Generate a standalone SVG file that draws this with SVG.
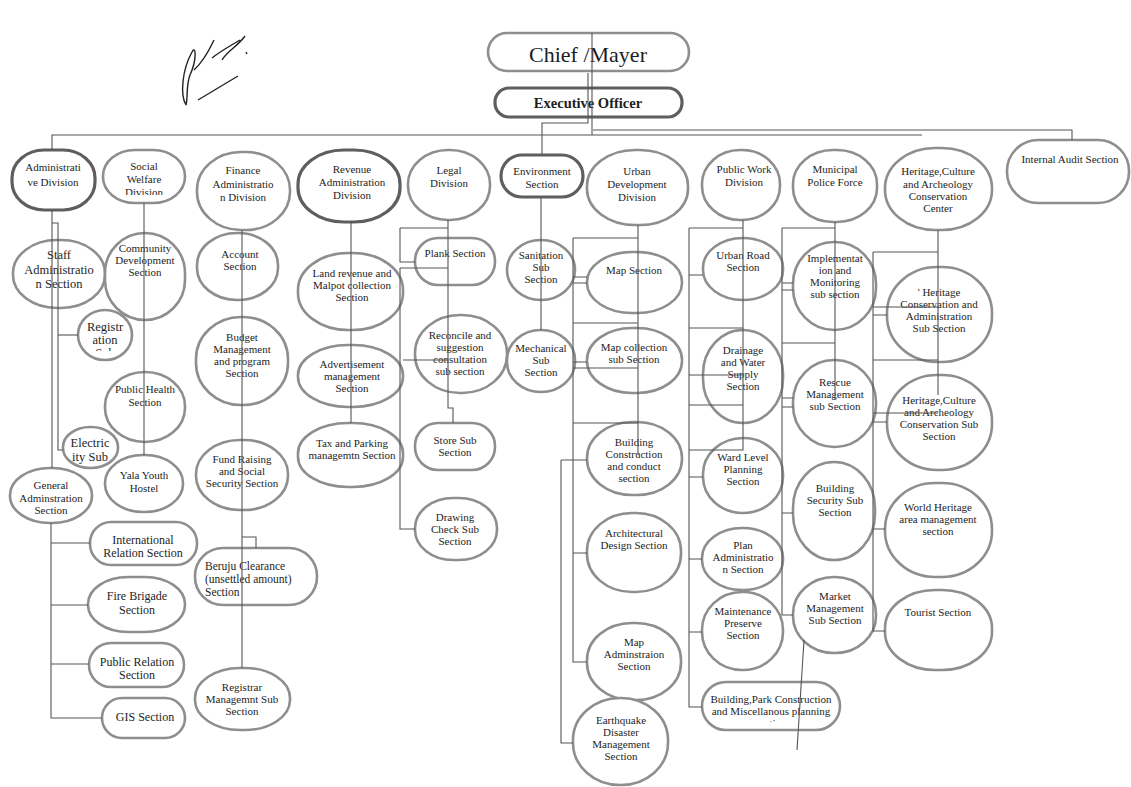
<svg xmlns="http://www.w3.org/2000/svg" width="1131" height="787" viewBox="0 0 1131 787">
<style>
.n{fill:#fff;stroke:#8e8e8e;stroke-width:2.6}
.nb{fill:#fff;stroke:#5e5e5e;stroke-width:3.2}
text{font-family:"Liberation Serif","Times New Roman",serif;font-size:11px;fill:#1e1e1e;text-anchor:middle}
.l{font-size:12px}
.xl{font-size:12.5px}
.c{fill:none;stroke:#555;stroke-width:1.1}
</style>
<defs>
<clipPath id="cpSoc"><rect x="103" y="150" width="82" height="45"/></clipPath>
<clipPath id="cpReg"><rect x="78" y="310" width="54" height="41"/></clipPath>
<clipPath id="cpBP"><rect x="702" y="682" width="138" height="40"/></clipPath>
</defs>
<rect width="1131" height="787" fill="#fff"/>

<g id="signature" fill="none" stroke="#222" stroke-width="1.4">
<path d="M186,105 C180,95 182,70 192,52 M192,52 C196,44 197,60 190,75 C186,85 188,98 186,105"/>
<path d="M198,100 L238,76"/>
<path d="M194,70 C205,60 210,48 214,40 M212,58 C222,50 232,45 240,40 M222,60 C228,50 236,48 245,36 M246,52 L247,54"/>
</g>

<g id="chief"><rect class="n" x="488" y="33" width="201" height="38" rx="19"/><text x="588" y="62" style="font-size:22px">Chief /Mayer</text></g>
<g id="exec"><rect class="nb" x="495" y="88" width="187" height="29" rx="14"/><text x="588" y="108" style="font-size:14.5px;font-weight:bold">Executive Officer</text></g>

<g id="admin-div"><rect class="nb" x="12" y="150" width="83" height="60" rx="32" ry="28"/><text x="53" y="171">Administrati</text><text x="53" y="186">ve Division</text></g>
<g id="social-div"><rect class="n" x="103" y="150" width="82" height="53" rx="32" ry="26"/><g clip-path="url(#cpSoc)"><text x="144" y="170">Social</text><text x="144" y="183">Welfare</text><text x="144" y="196">Division</text></g></g>
<g id="finance-div"><rect class="n" x="197" y="152" width="93" height="78" rx="44" ry="38"/><text x="243" y="174">Finance</text><text x="243" y="188">Administratio</text><text x="243" y="201">n  Division</text></g>
<g id="revenue-div"><rect class="nb" x="298" y="150" width="102" height="72" rx="46" ry="34"/><text x="352" y="173">Revenue</text><text x="352" y="186">Administration</text><text x="352" y="199">Division</text></g>
<g id="legal-div"><rect class="n" x="408" y="150" width="82" height="70" rx="40" ry="34"/><text x="449" y="174">Legal</text><text x="449" y="187">Division</text></g>
<g id="env-sec"><rect class="nb" x="501" y="155" width="82" height="42" rx="21"/><text x="542" y="175">Environment</text><text x="542" y="188">Section</text></g>
<g id="urban-div"><rect class="n" x="587" y="150" width="101" height="75" rx="48" ry="36"/><text x="637" y="175">Urban</text><text x="637" y="188">Development</text><text x="637" y="201">Division</text></g>
<g id="publicwork-div"><rect class="n" x="702" y="150" width="78" height="70" rx="38" ry="34"/><text x="744" y="173">Public Work</text><text x="744" y="186">Division</text></g>
<g id="police"><rect class="n" x="793" y="150" width="84" height="72" rx="40" ry="34"/><text x="835" y="173">Municipal</text><text x="835" y="186">Police Force</text></g>
<g id="heritage-center"><rect class="n" x="885" y="148" width="107" height="82" rx="50" ry="40"/><text x="938" y="175">Heritage,Culture</text><text x="938" y="188">and Archeology</text><text x="938" y="200">Conservation</text><text x="938" y="212">Center</text></g>
<g id="audit"><rect class="n" x="1007" y="140" width="122" height="63" rx="31"/><text x="1070" y="163">Internal Audit Section</text></g>

<g id="staff"><rect class="n" x="13" y="240" width="92" height="68" rx="44" ry="33"/><text class="xl" x="59" y="259">Staff</text><text class="xl" x="59" y="274">Administratio</text><text class="xl" x="59" y="288">n Section</text></g>
<g id="registration"><rect class="n" x="78" y="310" width="54" height="50" rx="27" ry="25"/><g clip-path="url(#cpReg)"><text class="xl" x="105" y="331">Registr</text><text class="xl" x="105" y="344">ation</text><text class="xl" x="105" y="357">Sub</text></g></g>
<g id="electricity"><rect class="n" x="63" y="427" width="55" height="41" rx="27" ry="20"/><text class="xl" x="90" y="447">Electric</text><text class="xl" x="90" y="461">ity Sub</text></g>
<g id="gen-admin"><rect class="n" x="10" y="468" width="82" height="55" rx="40" ry="27"/><text x="51" y="489">General</text><text x="51" y="502">Adminstration</text><text x="51" y="514">Section</text></g>
<g id="intl"><rect class="n" x="90" y="522" width="107" height="43" rx="21"/><text class="l" x="143" y="544">International</text><text class="l" x="143" y="557">Relation Section</text></g>
<g id="fire"><rect class="n" x="88" y="577" width="97" height="55" rx="40" ry="27"/><text class="l" x="137" y="600">Fire Brigade</text><text class="l" x="137" y="614">Section</text></g>
<g id="pubrel"><rect class="n" x="89" y="643" width="95" height="44" rx="22"/><text class="l" x="137" y="666">Public Relation</text><text class="l" x="137" y="679">Section</text></g>
<g id="gis"><rect class="n" x="102" y="698" width="83" height="40" rx="20"/><text class="l" x="145" y="721">GIS Section</text></g>

<g id="community"><rect class="n" x="105" y="233" width="80" height="87" rx="40" ry="40"/><text x="145" y="252">Community</text><text x="145" y="264">Development</text><text x="145" y="276">Section</text></g>
<g id="public-health"><rect class="n" x="105" y="372" width="80" height="70" rx="40" ry="34"/><text x="145" y="393">Public Health</text><text x="145" y="406">Section</text></g>
<g id="yala"><rect class="n" x="105" y="455" width="78" height="57" rx="38" ry="28"/><text x="144" y="479">Yala Youth</text><text x="144" y="492">Hostel</text></g>

<g id="account"><rect class="n" x="197" y="233" width="81" height="67" rx="40" ry="32"/><text x="240" y="258">Account</text><text x="240" y="270">Section</text></g>
<g id="budget"><rect class="n" x="196" y="317" width="92" height="88" rx="45" ry="42"/><text x="242" y="341">Budget</text><text x="242" y="353">Management</text><text x="242" y="365">and program</text><text x="242" y="377">Section</text></g>
<g id="fund"><rect class="n" x="196" y="440" width="92" height="70" rx="44" ry="34"/><text x="242" y="463">Fund Raising</text><text x="242" y="475">and Social</text><text x="242" y="487">Security Section</text></g>
<g id="beruju"><rect class="n" x="195" y="548" width="122" height="57" rx="28"/><text x="205" y="570" style="text-anchor:start;font-size:11.5px">Beruju Clearance</text><text x="205" y="583" style="text-anchor:start;font-size:11.5px">(unsettled amount)</text><text x="205" y="596" style="text-anchor:start;font-size:11.5px">Section</text></g>
<g id="registrar"><rect class="n" x="195" y="668" width="95" height="62" rx="45" ry="30"/><text x="242" y="691">Registrar</text><text x="242" y="703">Managemnt Sub</text><text x="242" y="715">Section</text></g>

<g id="land"><rect class="n" x="298" y="253" width="105" height="77" rx="50" ry="37"/><text x="352" y="277">Land revenue and</text><text x="352" y="289">Malpot collection</text><text x="352" y="301">Section</text></g>
<g id="advert"><rect class="n" x="298" y="345" width="105" height="62" rx="50" ry="30"/><text x="352" y="368">Advertisement</text><text x="352" y="380">management</text><text x="352" y="392">Section</text></g>
<g id="tax"><rect class="n" x="298" y="423" width="105" height="64" rx="50" ry="30"/><text x="352" y="447">Tax and Parking</text><text x="352" y="459">managemtn Section</text></g>

<g id="plank"><rect class="n" x="415" y="238" width="80" height="47" rx="23"/><text x="455" y="257">Plank Section</text></g>
<g id="reconcile"><rect class="n" x="415" y="315" width="92" height="78" rx="45" ry="38"/><text x="460" y="339">Reconcile and</text><text x="460" y="351">suggestion</text><text x="460" y="363">consultation</text><text x="460" y="375">sub section</text></g>
<g id="store"><rect class="n" x="415" y="423" width="80" height="47" rx="23"/><text x="455" y="444">Store  Sub</text><text x="455" y="456">Section</text></g>
<g id="drawing"><rect class="n" x="415" y="498" width="82" height="62" rx="38" ry="30"/><text x="455" y="521">Drawing</text><text x="455" y="533">Check Sub</text><text x="455" y="545">Section</text></g>

<g id="sanitation"><rect class="n" x="507" y="240" width="68" height="60" rx="34" ry="30"/><text x="541" y="259">Sanitation</text><text x="541" y="271">Sub</text><text x="541" y="283">Section</text></g>
<g id="mechanical"><rect class="n" x="507" y="330" width="68" height="62" rx="34" ry="30"/><text x="541" y="352">Mechanical</text><text x="541" y="364">Sub</text><text x="541" y="376">Section</text></g>

<g id="map"><rect class="n" x="587" y="252" width="95" height="61" rx="45" ry="30"/><text x="634" y="274">Map Section</text></g>
<g id="map-coll"><rect class="n" x="587" y="328" width="95" height="65" rx="45" ry="32"/><text x="634" y="351">Map collection</text><text x="634" y="363">sub Section</text></g>
<g id="build-cons"><rect class="n" x="587" y="422" width="95" height="73" rx="45" ry="36"/><text x="634" y="446">Building</text><text x="634" y="458">Construction</text><text x="634" y="470">and conduct</text><text x="634" y="482">section</text></g>
<g id="arch"><rect class="n" x="587" y="513" width="94" height="79" rx="45" ry="38"/><text x="634" y="537">Architectural</text><text x="634" y="549">Design Section</text></g>
<g id="map-admin"><rect class="n" x="587" y="623" width="94" height="77" rx="45" ry="37"/><text x="634" y="646">Map</text><text x="634" y="658">Adminstraion</text><text x="634" y="670">Section</text></g>
<g id="earthquake"><rect class="n" x="573" y="698" width="95" height="87" rx="47" ry="42"/><text x="621" y="724">Earthquake</text><text x="621" y="736">Disaster</text><text x="621" y="748">Management</text><text x="621" y="760">Section</text></g>

<g id="urban-road"><rect class="n" x="703" y="238" width="80" height="62" rx="40" ry="30"/><text x="743" y="259">Urban Road</text><text x="743" y="271">Section</text></g>
<g id="drainage"><rect class="n" x="703" y="330" width="80" height="93" rx="40" ry="44"/><text x="743" y="354">Drainage</text><text x="743" y="366">and Water</text><text x="743" y="378">Supply</text><text x="743" y="390">Section</text></g>
<g id="ward"><rect class="n" x="703" y="438" width="80" height="75" rx="40" ry="36"/><text x="743" y="461">Ward Level</text><text x="743" y="473">Planning</text><text x="743" y="485">Section</text></g>
<g id="plan"><rect class="n" x="702" y="528" width="81" height="62" rx="40" ry="30"/><text x="743" y="549">Plan</text><text x="743" y="561">Administratio</text><text x="743" y="573">n Section</text></g>
<g id="maint"><rect class="n" x="702" y="592" width="81" height="78" rx="40" ry="38"/><text x="743" y="615">Maintenance</text><text x="743" y="627">Preserve</text><text x="743" y="639">Section</text></g>
<g id="build-park"><rect class="n" x="702" y="682" width="138" height="48" rx="24"/><g clip-path="url(#cpBP)"><text x="771" y="703">Building,Park Construction</text><text x="771" y="715">and Miscellanous planning</text><text x="771" y="727">section</text></g></g>

<g id="impl"><rect class="n" x="793" y="242" width="83" height="88" rx="41" ry="42"/><text x="835" y="262">Implementat</text><text x="835" y="274">ion and</text><text x="835" y="286">Monitoring</text><text x="835" y="298">sub section</text></g>
<g id="rescue"><rect class="n" x="793" y="360" width="83" height="87" rx="41" ry="42"/><text x="835" y="386">Rescue</text><text x="835" y="398">Management</text><text x="835" y="410">sub Section</text></g>
<g id="b-security"><rect class="n" x="793" y="462" width="82" height="98" rx="41" ry="46"/><text x="835" y="492">Building</text><text x="835" y="504">Security Sub</text><text x="835" y="516">Section</text></g>
<g id="market"><rect class="n" x="793" y="577" width="83" height="76" rx="41" ry="37"/><text x="835" y="600">Market</text><text x="835" y="612">Management</text><text x="835" y="624">Sub Section</text></g>

<g id="h-cons"><rect class="n" x="887" y="267" width="105" height="95" rx="50" ry="46"/><text x="939" y="296">'  Heritage</text><text x="939" y="308">Conservation and</text><text x="939" y="320">Administration</text><text x="939" y="332">Sub Section</text></g>
<g id="h-culture"><rect class="n" x="887" y="375" width="105" height="95" rx="50" ry="46"/><text x="939" y="404">Heritage,Culture</text><text x="939" y="416">and Archeology</text><text x="939" y="428">Conservation Sub</text><text x="939" y="440">Section</text></g>
<g id="world"><rect class="n" x="885" y="483" width="107" height="94" rx="50" ry="46"/><text x="938" y="511">World Heritage</text><text x="938" y="523">area management</text><text x="938" y="535">section</text></g>
<g id="tourist"><rect class="n" x="885" y="590" width="107" height="80" rx="50" ry="38"/><text x="938" y="616">Tourist Section</text></g>

<g id="connectors" class="c">
<path d="M52,150 V135 H922"/>
<path d="M593,130 H1072 V140"/>
<path d="M592,33 V135"/>
<path d="M588,73 V123 H542 V155"/>
<path d="M52,210 V468"/>
<path d="M52,223 H58 V450 H63"/>
<path d="M58,335 H78"/>
<path d="M51,523 V718 H102"/>
<path d="M51,543 H90 M51,605 H88 M51,664 H89"/>
<path d="M144,203 V455"/>
<path d="M242,230 V668"/>
<path d="M242,537 H256 V548"/>
<path d="M351,222 V423"/>
<path d="M448,220 V408 H453 V423"/>
<path d="M400,228 H448 M400,228 V262 H415"/>
<path d="M400,268 H448 M400,268 V529 H415"/>
<path d="M403,360 H448"/>
<path d="M541,197 V330"/>
<path d="M638,225 V455"/>
<path d="M573,238 H638 M573,238 V662 H587"/>
<path d="M573,277 H587 M573,283 H587 M573,323 H638 M573,362 H587 M573,368 H638 M573,423 H638 M573,553 H587"/>
<path d="M561,460 H587 M561,460 V743 H573"/>
<path d="M743,220 V450 H689"/>
<path d="M689,228 H743 M689,228 V707 H702"/>
<path d="M689,275 H703 M689,328 H743 M689,375 H743 M689,405 H743 M689,477 H703 M689,559 H702 M689,632 H702"/>
<path d="M835,222 V400"/>
<path d="M782,228 H835 M782,228 V615 H793"/>
<path d="M782,283 H793 M782,290 H793 M782,343 H835 M782,398 H793 M782,407 H793 M782,513 H793"/>
<path d="M804,640 L797,750"/>
<path d="M938,230 V395"/>
<path d="M873,252 H938 M873,252 V631 H885"/>
<path d="M873,307 H938 M873,315 H887 M873,360 H938 M873,413 H938 M873,422 H887 M873,529 H885"/>
</g>
</svg>
